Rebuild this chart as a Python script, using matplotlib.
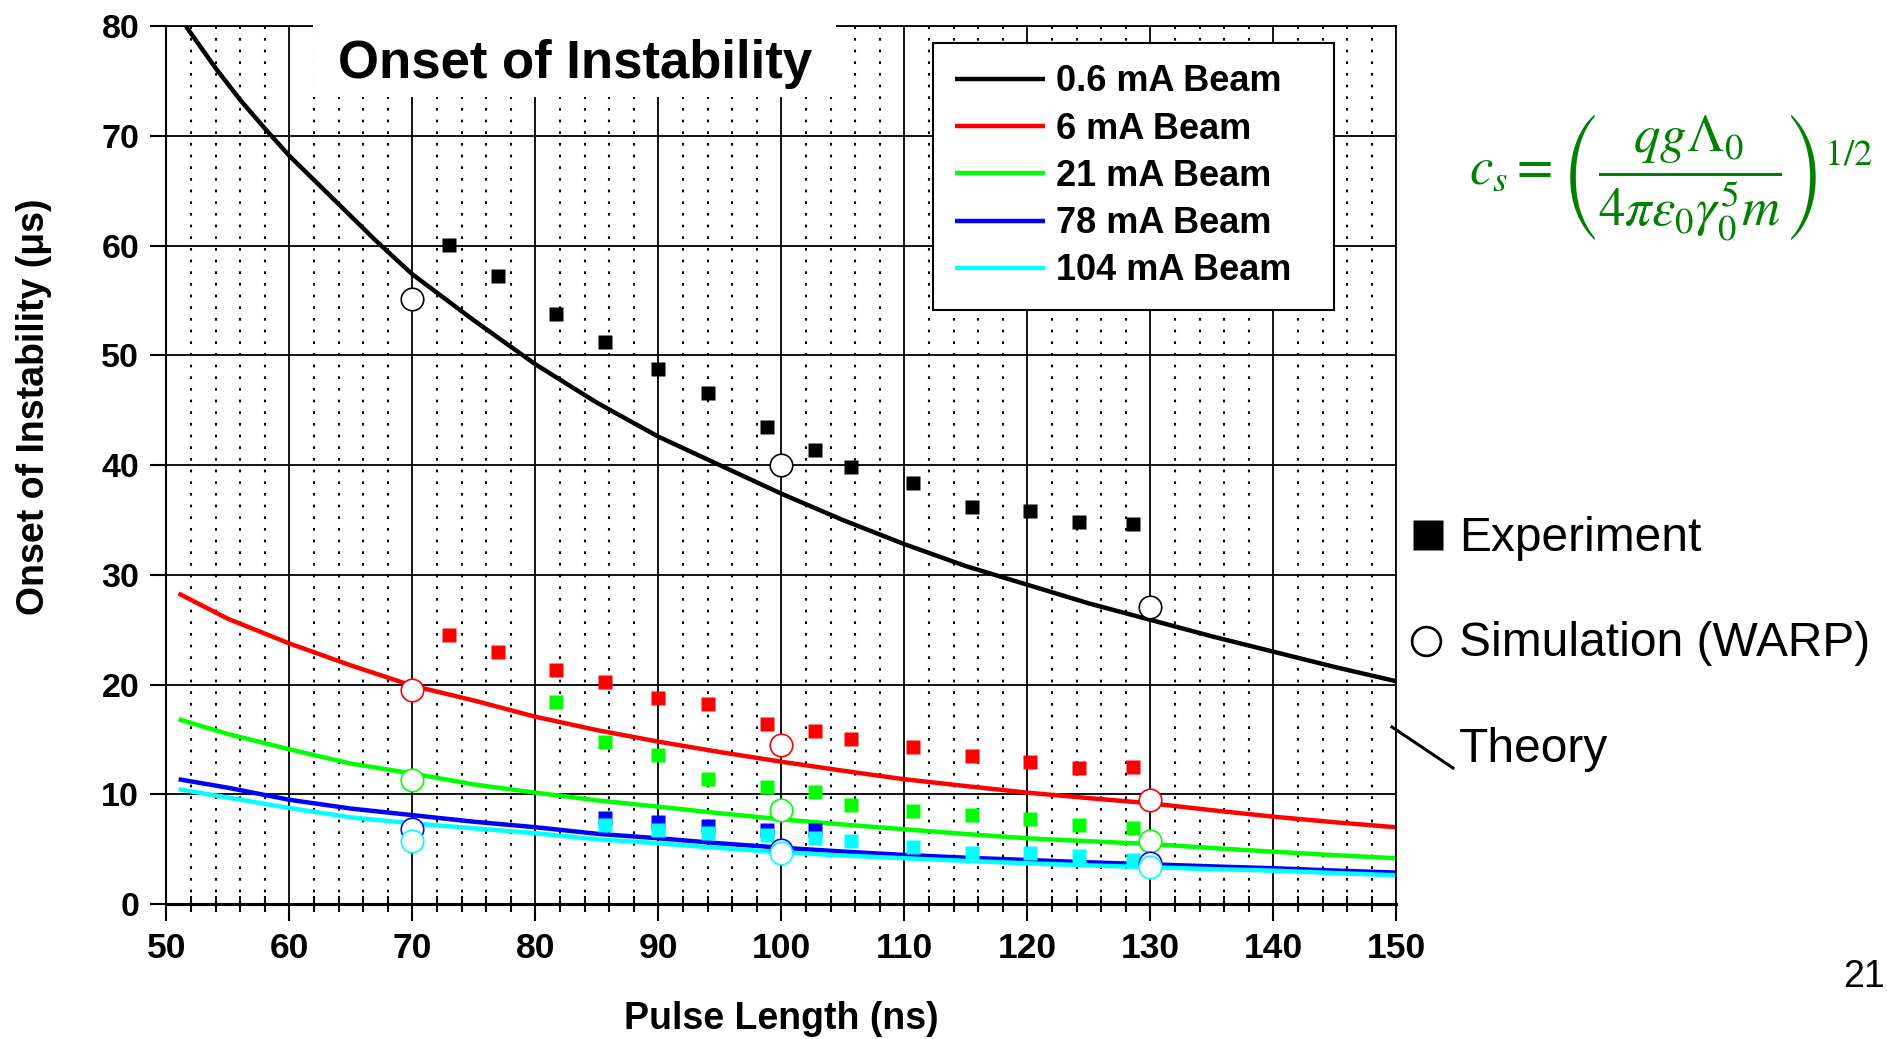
import matplotlib
matplotlib.use("Agg")
import matplotlib.pyplot as plt
from matplotlib.ticker import MultipleLocator
from matplotlib.lines import Line2D
from matplotlib.patches import Rectangle

plt.rcParams['font.family'] = ['Liberation Sans', 'DejaVu Sans']
plt.rcParams['mathtext.fontset'] = 'stix'

# theory curves
theory_x = [51, 55, 60, 65, 70, 75, 80, 85, 90, 95, 100, 105, 110, 115, 120, 125, 130, 135, 140, 145, 150]
black_x = [51.6, 54, 56, 58, 60, 62, 64, 67, 70, 75, 80, 85, 90, 95, 100, 105, 110, 115, 120, 125, 130, 135, 140, 145, 150]
black_th = [80.0, 76.2, 73.3, 70.7, 68.2, 66.0, 63.8, 60.5, 57.4, 53.2, 49.2, 45.7, 42.6, 40.0, 37.4, 35.0, 32.8, 30.8,
            29.1, 27.4, 25.9, 24.4, 23.0, 21.6, 20.3]
red_th = [28.3, 26.0, 23.75, 21.75, 19.9, 18.55, 17.07, 15.85, 14.8, 13.85, 12.97, 12.15, 11.37, 10.75, 10.15, 9.65, 9.18, 8.55, 7.96, 7.45, 6.99]
green_th = [16.84, 15.5, 14.1, 12.8, 11.9, 10.9, 10.15, 9.45, 8.87, 8.27, 7.72, 7.25, 6.81, 6.38, 5.99, 5.72, 5.47, 5.1, 4.77, 4.45, 4.17]
blue_th = [11.37, 10.6, 9.5, 8.7, 8.1, 7.5, 7.0, 6.4, 5.99, 5.53, 5.13, 4.78, 4.47, 4.22, 4.01, 3.8, 3.62, 3.43, 3.26, 3.05, 2.86]
cyan_th = [10.46, 9.7, 8.75, 7.9, 7.35, 6.9, 6.45, 5.9, 5.53, 5.1, 4.71, 4.42, 4.17, 3.93, 3.71, 3.52, 3.35, 3.18, 3.04, 2.82, 2.62]

# experiment (squares)
exp_x = [73.0, 77.0, 81.7, 85.7, 90.0, 94.0, 98.8, 102.7, 105.7, 110.7, 115.5, 120.2, 124.2, 128.6]
black_exp = [60.1, 57.25, 53.8, 51.25, 48.75, 46.6, 43.5, 41.4, 39.8, 38.35, 36.2, 35.8, 34.8, 34.65]
red_exp = [24.5, 23.0, 21.33, 20.2, 18.78, 18.2, 16.4, 15.77, 15.0, 14.3, 13.5, 12.97, 12.37, 12.52]
green_exp = [18.4, 14.75, 13.6, 11.37, 10.7, 10.2, 9.0, 8.5, 8.14, 7.72, 7.23, 6.96]
blue_exp = [7.87, 7.47, 7.11, 6.75, 6.75]
cyan_exp = [7.2, 6.75, 6.47, 6.29, 6.02, 5.74, 5.2, 4.65, 4.65, 4.42, 4.01]

# simulation (open circles)
sim_x = [70, 100, 130]
black_sim = [55.1, 40.0, 27.05]
red_sim = [19.51, 14.49, 9.48]
green_sim = [11.3, 8.57, 5.77]
blue_sim = [6.8, 4.9, 3.76]
cyan_sim = [5.74, 4.62, 3.4]

labels = ['0.6 mA Beam', '6 mA Beam', '21 mA Beam', '78 mA Beam', '104 mA Beam']
colors = ['black', '#ff0000', '#00ff00', '#0000ff', '#00ffff']

W, H = 1887, 1039
fig = plt.figure(figsize=(W / 100, H / 100), dpi=100)
ax = fig.add_axes([166.3 / W, 1 - 904 / H, 1230 / W, 877.7 / H])

def fx(px):
    return px / W

def fy(py):
    return 1 - py / H

theory = [(black_x, black_th), (theory_x, red_th), (theory_x, green_th), (theory_x, blue_th), (theory_x, cyan_th)]
for (tx, ty), c, lab in zip(theory, colors, labels):
    ax.plot(tx, ty, color=c, lw=3.2, label=lab, zorder=2, solid_capstyle='butt')

exps = [(exp_x, black_exp), (exp_x, red_exp), (exp_x[2:], green_exp), (exp_x[3:8], blue_exp), (exp_x[3:], cyan_exp)]
for (ex, ey), c in zip(exps, colors):
    ax.plot(ex, ey, 's', color=c, ms=10, mec='none', zorder=3)

sims = [black_sim, red_sim, green_sim, blue_sim, cyan_sim]
for sy, c in zip(sims, colors):
    ax.plot(sim_x, sy, 'o', mfc='white', mec=c, ms=16.2, mew=1.2, zorder=4)

ax.set_xlim(50, 150)
ax.set_ylim(0, 80)
ax.set_xticks(range(50, 151, 10))
ax.set_yticks(range(0, 81, 10))
ax.xaxis.set_minor_locator(MultipleLocator(2))
ax.grid(which='major', color='black', lw=1.3, ls='-')
ax.grid(which='minor', axis='x', color='black', lw=1.5, ls=(0, (1.3, 4.3)))
ax.tick_params(axis='x', which='major', direction='out', length=12, width=1.5, pad=8, labelsize=25.5)
ax.tick_params(axis='x', which='minor', direction='inout', length=11, width=1.5)
ax.tick_params(axis='y', which='major', direction='out', length=11.5, width=1.5, pad=8, labelsize=24.5)
for lab in ax.get_xticklabels() + ax.get_yticklabels():
    lab.set_fontweight('bold')
ax.spines['left'].set_linewidth(1.5)
ax.spines['bottom'].set_linewidth(2.2)
ax.spines['top'].set_linewidth(1.3)
ax.spines['right'].set_linewidth(1.3)

ax.set_xlabel('Pulse Length (ns)', fontsize=27, fontweight='bold')
ax.xaxis.set_label_coords(0.5, -0.110)
ax.set_ylabel('Onset of Instability (μs)', fontsize=27, fontweight='bold')
ax.yaxis.set_label_coords(-0.093, 0.567)

# title on a white patch that cuts the top of the grid
ax.add_patch(Rectangle((fx(313), fy(97)), fx(836) - fx(313), fy(0) - fy(97),
                       transform=fig.transFigure, facecolor='white', edgecolor='none',
                       clip_on=False, zorder=3.5))
ax.text(fx(575), fy(78), 'Onset of Instability', transform=fig.transFigure,
        ha='center', va='baseline', fontsize=38, fontweight='bold', zorder=4)

leg = ax.legend(loc='upper left', mode='expand',
                bbox_to_anchor=(fx(933), fy(306.7), fx(1334) - fx(933), fy(42.7) - fy(306.7)),
                bbox_transform=fig.transFigure, borderaxespad=0,
                prop={'weight': 'bold', 'size': 26}, frameon=True, fancybox=False,
                framealpha=1, edgecolor='black', borderpad=0.6, labelspacing=0.34,
                handlelength=2.5, handletextpad=0.3)
leg.get_frame().set_linewidth(1.5)
leg.set_zorder(5)

# formula
fig.text(fx(1671), fy(178), r'$c_s=\left(\dfrac{qg\Lambda_0}{4\pi\varepsilon_0\gamma_0^5 m}\right)^{1/2}$',
         color='#008000', fontsize=38, ha='center', va='center')

# symbol key on the right
fig.add_artist(Line2D([fx(1427.5)], [fy(535.3)], marker='s', ms=21.3, color='black', mec='none',
                      transform=fig.transFigure))
fig.add_artist(Line2D([fx(1426.3)], [fy(640.8)], marker='o', ms=20.7, mfc='white', mec='black', mew=1.9,
                      transform=fig.transFigure))
fig.add_artist(Line2D([fx(1392), fx(1453)], [fy(727), fy(768)], color='black', lw=2.2,
                      transform=fig.transFigure))
fig.text(fx(1459), fy(550.7), 'Experiment', fontsize=34.5, va='baseline')
fig.text(fx(1459), fy(656), 'Simulation (WARP)', fontsize=34.5, va='baseline')
fig.text(fx(1459), fy(761.7), 'Theory', fontsize=34.5, va='baseline')
fig.text(fx(1843), fy(987), '21', fontsize=27, va='baseline')

fig.savefig('out.png', dpi=100)
